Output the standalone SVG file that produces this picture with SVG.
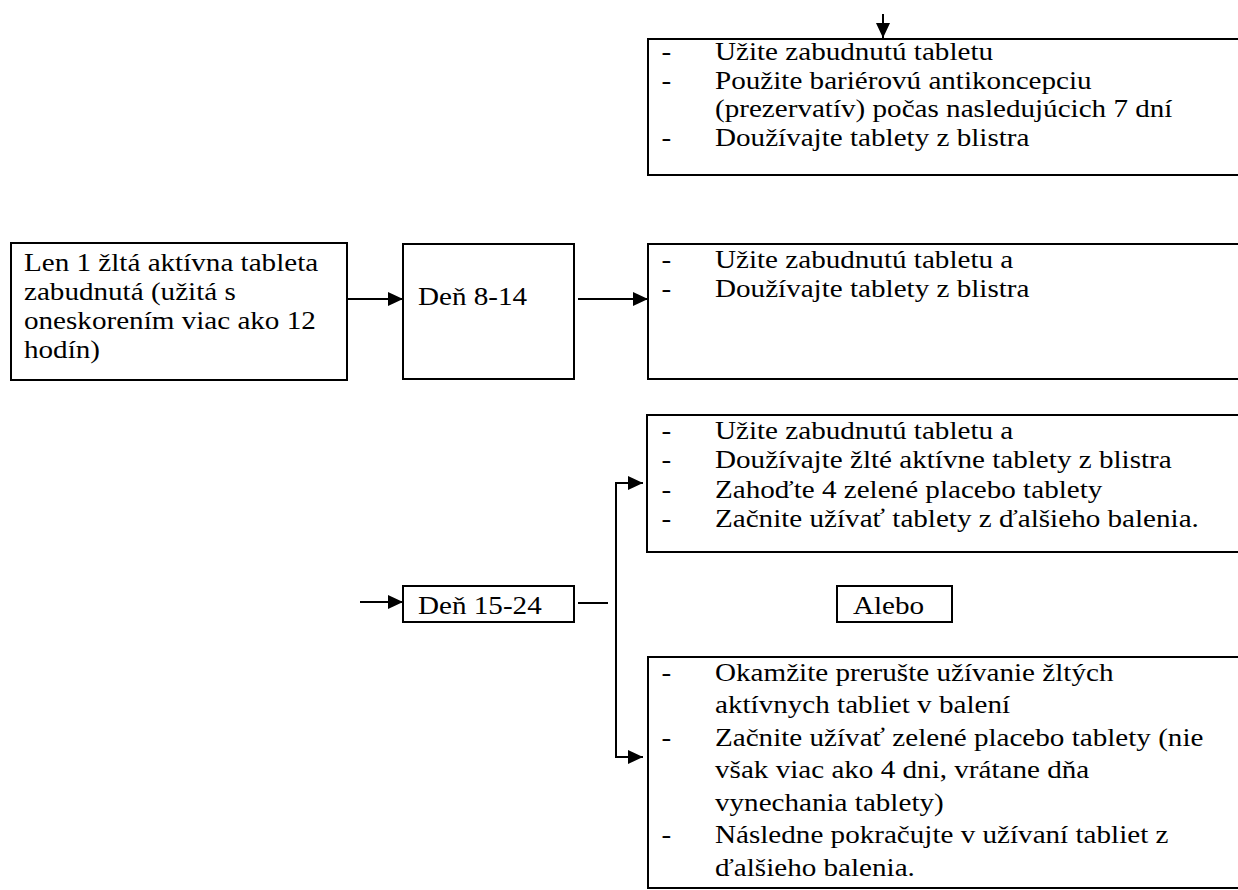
<svg xmlns="http://www.w3.org/2000/svg" width="1238" height="890" viewBox="0 0 1238 890">
<style>
.box{fill:#fff;stroke:#000;stroke-width:2}
.t{font-family:"Liberation Serif","Times New Roman",serif;font-size:25px;fill:#000}
.c{stroke:#000;stroke-width:2;fill:none}
</style>
<defs>
<marker id="ah" markerUnits="userSpaceOnUse" markerWidth="15" markerHeight="14" refX="15" refY="7" orient="auto"><path d="M0,0 L15,7 L0,14 z" fill="#000"/></marker>
</defs>
<rect width="1238" height="890" fill="#fff"/>

<g id="connectors">
<line class="c" x1="883" y1="14" x2="883" y2="38" marker-end="url(#ah)"/>
<line class="c" x1="343" y1="299" x2="403" y2="299" marker-end="url(#ah)"/>
<line class="c" x1="578" y1="299" x2="648" y2="299" marker-end="url(#ah)"/>
<line class="c" x1="360" y1="602" x2="403" y2="602" marker-end="url(#ah)"/>
<line class="c" x1="578" y1="603" x2="608" y2="603"/>
<polyline class="c" points="616,757 616,483 643,483" marker-end="url(#ah)"/>
<polyline class="c" points="616,483 616,757 643,757" marker-end="url(#ah)"/>
</g>

<g id="node-top">
<rect class="box" x="648" y="39" width="620" height="136"/>
<g class="t" transform="translate(715,0) scale(1.165,1)">
<text x="-46" y="60">-</text><text x="0" y="60">Užite zabudnutú tabletu</text>
<text x="-46" y="88.7">-</text><text x="0" y="88.7">Použite bariérovú antikoncepciu</text>
<text x="0" y="117.4">(prezervatív) počas nasledujúcich 7 dní</text>
<text x="-46" y="146">-</text><text x="0" y="146">Doužívajte tablety z blistra</text>
</g>
</g>

<g id="node-start">
<rect class="box" x="11" y="243" width="336" height="137"/>
<g class="t" transform="translate(24,0) scale(1.165,1)">
<text x="0" y="271">Len 1 žltá aktívna tableta</text>
<text x="0" y="300">zabudnutá (užitá s</text>
<text x="0" y="329">oneskorením viac ako 12</text>
<text x="0" y="358">hodín)</text>
</g>
</g>

<g id="node-den8">
<rect class="box" x="403" y="244" width="171" height="135"/>
<g class="t" transform="translate(418,0) scale(1.165,1)">
<text x="0" y="305">Deň 8-14</text>
</g>
</g>

<g id="node-mid">
<rect class="box" x="648" y="244" width="620" height="135"/>
<g class="t" transform="translate(715,0) scale(1.165,1)">
<text x="-46" y="268">-</text><text x="0" y="268">Užite zabudnutú tabletu a</text>
<text x="-46" y="297">-</text><text x="0" y="297">Doužívajte tablety z blistra</text>
</g>
</g>

<g id="node-den15">
<rect class="box" x="403" y="586" width="171" height="36"/>
<g class="t" transform="translate(418,0) scale(1.165,1)">
<text x="0" y="614">Deň 15-24</text>
</g>
</g>

<g id="node-opt1">
<rect class="box" x="647" y="415" width="620" height="137"/>
<g class="t" transform="translate(715,0) scale(1.165,1)">
<text x="-46" y="439">-</text><text x="0" y="439">Užite zabudnutú tabletu a</text>
<text x="-46" y="468.5">-</text><text x="0" y="468.5">Doužívajte žlté aktívne tablety z blistra</text>
<text x="-46" y="498">-</text><text x="0" y="498">Zahoďte 4 zelené placebo tablety</text>
<text x="-46" y="527.5">-</text><text x="0" y="527.5">Začnite užívať tablety z ďalšieho balenia.</text>
</g>
</g>

<g id="node-alebo">
<rect class="box" x="837" y="586" width="115" height="36"/>
<g class="t" transform="translate(853,0) scale(1.165,1)">
<text x="0" y="614">Alebo</text>
</g>
</g>

<g id="node-opt2">
<rect class="box" x="648" y="657" width="620" height="231"/>
<g class="t" transform="translate(715,0) scale(1.165,1)">
<text x="-46" y="681">-</text><text x="0" y="681">Okamžite prerušte užívanie žltých</text>
<text x="0" y="713.5">aktívnych tabliet v balení</text>
<text x="-46" y="746">-</text><text x="0" y="746">Začnite užívať zelené placebo tablety (nie</text>
<text x="0" y="778.5">však viac ako 4 dni, vrátane dňa</text>
<text x="0" y="811">vynechania tablety)</text>
<text x="-46" y="843.5">-</text><text x="0" y="843.5">Následne pokračujte v užívaní tabliet z</text>
<text x="0" y="876">ďalšieho balenia.</text>
</g>
</g>
</svg>
